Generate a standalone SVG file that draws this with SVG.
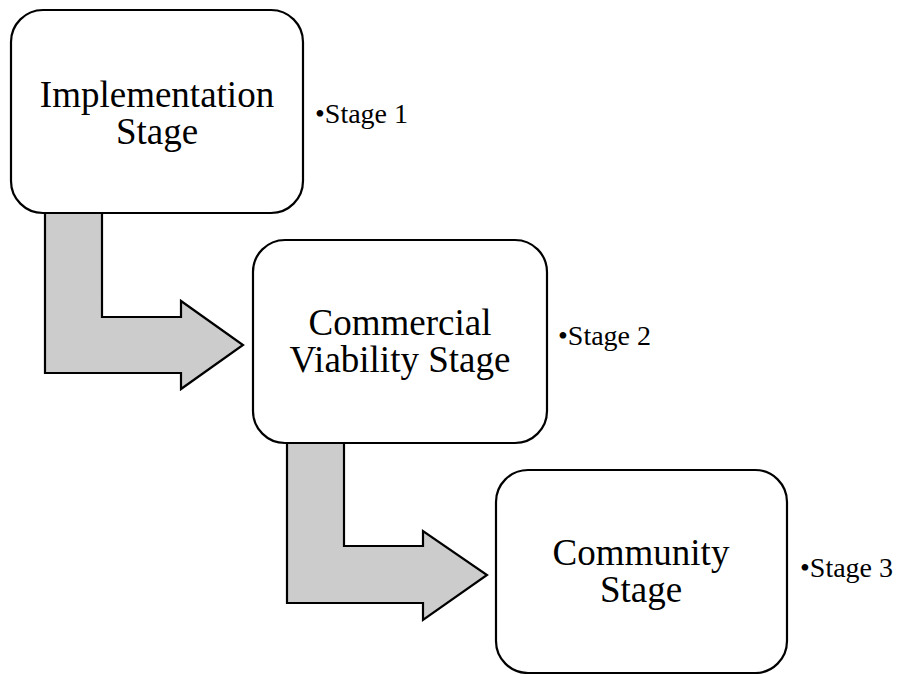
<svg xmlns="http://www.w3.org/2000/svg" width="898" height="674" viewBox="0 0 898 674">
<style>
.box{fill:#ffffff;stroke:#000000;stroke-width:2.2}
.arrow{fill:#cccccc;stroke:#000000;stroke-width:2.2;stroke-linejoin:miter}
.t{font-family:"Liberation Serif","Times New Roman",serif;font-size:37px;fill:#000000;text-anchor:middle}
.s{font-family:"Liberation Serif","Times New Roman",serif;font-size:28px;fill:#000000}
</style>
<rect width="898" height="674" fill="#ffffff"/>
<g id="connectors">
<polygon class="arrow" points="45,213 102,213 102,317 181,317 181,301 243,345 181,389 181,373 45,373"/>
<polygon class="arrow" points="287,443 344,443 344,546 423,546 423,531 487,575 423,620 423,603 287,603"/>
</g>
<g id="node1">
<rect class="box" x="11" y="10" width="292" height="203" rx="32" ry="32"/>
<text class="t" x="157" y="107">Implementation</text>
<text class="t" x="157" y="144">Stage</text>
</g>
<g id="node2">
<rect class="box" x="253" y="240" width="294" height="203" rx="32" ry="32"/>
<text class="t" x="400" y="335">Commercial</text>
<text class="t" x="400" y="372">Viability Stage</text>
</g>
<g id="node3">
<rect class="box" x="496" y="470" width="291" height="203" rx="32" ry="32"/>
<text class="t" x="641" y="565">Community</text>
<text class="t" x="641" y="602">Stage</text>
</g>
<g id="label1"><text class="s" x="315" y="123">•Stage 1</text></g>
<g id="label2"><text class="s" x="558" y="345">•Stage 2</text></g>
<g id="label3"><text class="s" x="800" y="577">•Stage 3</text></g>
</svg>
